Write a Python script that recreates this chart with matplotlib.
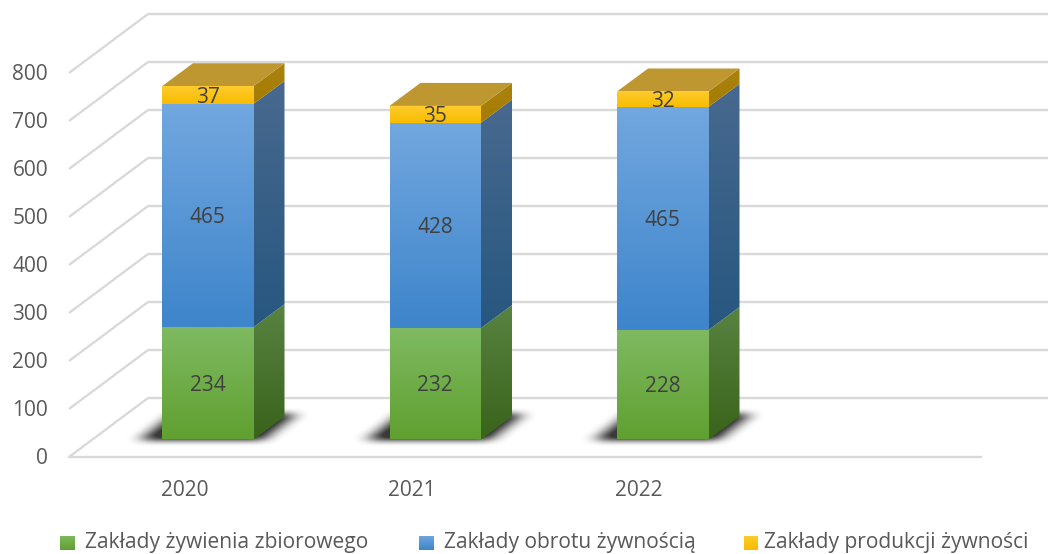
import numpy as np
import matplotlib
matplotlib.use("Agg")
import matplotlib.pyplot as plt
from matplotlib.patches import Polygon
from matplotlib.colors import to_rgb

years = ["2020", "2021", "2022"]
series_names = ["Zakłady żywienia zbiorowego", "Zakłady obrotu żywnością", "Zakłady produkcji żywności"]
zywienia = [234, 232, 228]
obrot = [465, 428, 465]
produkcja = [37, 35, 32]
y_ticks = [0, 100, 200, 300, 400, 500, 600, 700, 800]

front_cols = [("#7FBA62", "#60A030"), ("#72A7DF", "#3E85CB"), ("#FFCB2E", "#F8BC00")]
side_cols = [("#588341", "#3A641B"), ("#48698F", "#27577F"), ("#A98210", "#A67C00")]
top_col = "#BF9730"
grid_col = "#D9D9D9"
FONT = "Open Sans"
FS = 15
TEXT_NUDGE = 2  # pixels, text centre correction

W, H = 1048, 554
PX_PER_UNIT = 0.48   # pixels per value unit
BASE_PY = 439.5      # pixel row of value 0 on bars
X0, STEP = 207.75, 227.5  # pixel centre of first bar, bar spacing

fig = plt.figure(figsize=(W / 100, H / 100), dpi=100, facecolor="white")
ax = fig.add_axes([0, 0, 1, 1])
ax.set_xlim(-X0 / STEP, (W - X0) / STEP)
ax.set_ylim((BASE_PY - H) / PX_PER_UNIT, BASE_PY / PX_PER_UNIT)
ax.axis("off")
xlim, ylim = ax.get_xlim(), ax.get_ylim()

dxu = lambda px: px / STEP
dyu = lambda px: px / PX_PER_UNIT
bar_w = dxu(91.5)
depth_x, depth_y = dxu(31), dyu(23)

# walls and floor
front_x, back_x = (69 - X0) / STEP, (148 - X0) / STEP
right_x = (981 - X0) / STEP
front_zero = dyu(BASE_PY - 457)
back_zero = dyu(BASE_PY - 398)
LW = 1.7
for v in y_ticks:
    yf, yb = front_zero + v, back_zero + v
    ax.plot([front_x, back_x], [yf, yb], color=grid_col, lw=LW, zorder=1, solid_capstyle="butt")
    ax.plot([back_x, xlim[1]], [yb, yb], color=grid_col, lw=LW, zorder=1, solid_capstyle="butt")
    ax.text((48 - X0) / STEP, yf - dyu(TEXT_NUDGE), str(v), ha="right", va="center", fontsize=FS,
            color="#595959", family=FONT)
ax.plot([front_x, right_x], [front_zero, front_zero], color=grid_col, lw=LW, zorder=1)


def gradient(poly, c_top, c_bot, y_top, y_bot, x_min, x_max, z):
    t = np.linspace(0, 1, 64)[:, None, None]
    a, b = np.array(to_rgb(c_top)), np.array(to_rgb(c_bot))
    img = a * (1 - t) + b * t
    im = ax.imshow(img, extent=(x_min, x_max, y_bot, y_top), aspect="auto",
                   interpolation="bilinear", zorder=z, origin="upper")
    patch = Polygon(poly, closed=True, transform=ax.transData, fc="none", ec="none")
    ax.add_patch(patch)
    im.set_clip_path(patch)


def shadow(cx):
    # soft dark parallelogram under the bar
    px = np.arange(-120, 150)
    py = np.arange(-50, 20)
    gx, gy = np.meshgrid(px, py)
    lift = -gy
    left = -66 + lift * 1.27
    right = 56 + lift * 1.27
    mask = ((gy <= 1) & (gy >= -25) & (gx >= left) & (gx <= right)).astype(float)
    kx = np.ones(19) / 19
    ky = np.ones(7) / 7
    for _ in range(2):
        mask = np.apply_along_axis(lambda r: np.convolve(r, kx, mode="same"), 1, mask)
        mask = np.apply_along_axis(lambda r: np.convolve(r, ky, mode="same"), 0, mask)
    rgba = np.zeros(mask.shape + (4,))
    rgba[..., 3] = np.clip(mask * 0.95, 0, 0.78)
    ax.imshow(rgba, extent=(cx + dxu(px[0]), cx + dxu(px[-1]), dyu(-py[-1]), dyu(-py[0])),
              aspect="auto", zorder=2, origin="upper", interpolation="bilinear")


stacks = [zywienia, obrot, produkcja]
for i, year in enumerate(years):
    shadow(i)
    left, right = i - bar_w / 2, i + bar_w / 2
    bottom = 0
    for s, vals in enumerate(stacks):
        v = vals[i]
        top = bottom + v
        gradient([(left, bottom), (right, bottom), (right, top), (left, top)],
                 *front_cols[s], top, bottom, left, right, 4)
        gradient([(right, bottom), (right + depth_x, bottom + depth_y),
                  (right + depth_x, top + depth_y), (right, top)],
                 *side_cols[s], top + depth_y, bottom, right, right + depth_x, 3)
        ax.text(i, bottom + v / 2 - dyu(TEXT_NUDGE), str(v), ha="center", va="center", fontsize=FS,
                color="#404040", family=FONT, zorder=6)
        bottom = top
    ax.add_patch(Polygon([(left, bottom), (right, bottom),
                          (right + depth_x, bottom + depth_y), (left + depth_x, bottom + depth_y)],
                         closed=True, fc=top_col, ec="none", zorder=3))
    ax.text(i - dxu(23.5), dyu(BASE_PY - 488 - TEXT_NUDGE), year, ha="center", va="center", fontsize=FS,
            color="#595959", family=FONT)

# legend
marker_px = [60, 419, 744]
label_px = [85, 444, 764]
for s, name in enumerate(series_names):
    x0 = (marker_px[s] - X0) / STEP
    x1 = (marker_px[s] + 14.5 - X0) / STEP
    yt, yb = dyu(BASE_PY - 536), dyu(BASE_PY - 550.5)
    gradient([(x0, yb), (x1, yb), (x1, yt), (x0, yt)], *front_cols[s], yt, yb, x0, x1, 4)
    ax.text((label_px[s] - X0) / STEP, dyu(BASE_PY - 548), name, ha="left", va="baseline",
            fontsize=15.1, color="#595959", family=FONT)

ax.set_xlim(xlim)
ax.set_ylim(ylim)
fig.savefig("out.png", dpi=100, facecolor="white")
